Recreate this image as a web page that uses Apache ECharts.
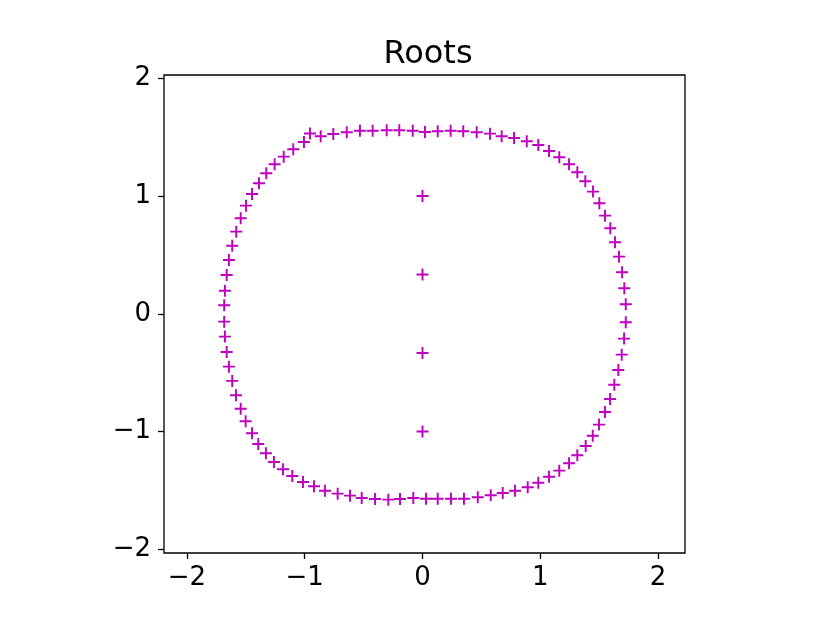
<!DOCTYPE html>
<html>
<head>
<meta charset="utf-8">
<script src="https://cdn.jsdelivr.net/npm/echarts@6/dist/echarts.min.js"></script>
<style>html,body{margin:0;padding:0;background:#fff;}#c{width:830px;height:623px;}</style>
</head>
<body>
<div id="c"></div>
<script>
// Ring of roots: x values (real parts)
var ringRe = [-0.955,-1.006,-1.097,-1.178,-1.255,-1.326,-1.388,-1.447,-1.498,-1.543,-1.581,-1.615,-1.643,-1.662,-1.677,-1.683,
  -1.683,-1.677,-1.662,-1.643,-1.615,-1.583,-1.543,-1.501,-1.447,-1.394,-1.329,-1.261,-1.184,-1.105,-1.014,-0.921,
  -0.828,-0.720,-0.615,-0.516,-0.403,-0.290,-0.191,-0.078,0.030,0.129,0.242,0.352,0.469,0.579,0.681,0.785,
  0.893,0.983,1.074,1.161,1.244,1.314,1.385,1.445,1.498,1.549,1.592,1.628,1.662,1.691,1.711,1.725,
  1.725,1.713,1.694,1.668,1.634,1.594,1.549,1.501,1.447,1.382,1.314,1.244,1.161,1.074,0.983,0.885,
  0.777,0.672,0.573,0.460,0.346,0.239,0.129,0.021,-0.083,-0.197,-0.304,-0.423,-0.531,-0.643,-0.757,-0.864];
// Ring of roots: y values (imaginary parts)
var ringIm = [1.531,1.458,1.396,1.334,1.269,1.193,1.108,1.017,0.918,0.811,0.697,0.578,0.457,0.329,0.196,0.072,
  -0.067,-0.194,-0.324,-0.449,-0.570,-0.692,-0.806,-0.913,-1.014,-1.105,-1.184,-1.258,-1.320,-1.377,-1.428,-1.464,
  -1.502,-1.527,-1.544,-1.564,-1.572,-1.578,-1.572,-1.564,-1.570,-1.570,-1.570,-1.570,-1.558,-1.541,-1.521,-1.502,
  -1.473,-1.434,-1.383,-1.332,-1.269,-1.201,-1.122,-1.035,-0.941,-0.834,-0.723,-0.602,-0.477,-0.347,-0.211,-0.072,
  0.081,0.216,0.352,0.485,0.607,0.726,0.833,0.938,1.037,1.125,1.201,1.269,1.329,1.382,1.433,1.464,
  1.492,1.507,1.529,1.541,1.549,1.554,1.549,1.543,1.554,1.558,1.558,1.554,1.554,1.541,1.526,1.507];
// Inner roots on the imaginary axis
var innerRe = [0, 0, 0, 0];
var innerIm = [1, 0.333, -0.333, -1];
var tickValues = [-2, -1, 0, 1, 2];
var titleText = 'Roots';

var pts = [];
for (var i = 0; i < ringRe.length; i++) pts.push([ringRe[i], ringIm[i]]);
for (var j = 0; j < innerRe.length; j++) pts.push([innerRe[j], innerIm[j]]);

var plus = 'path://M0.42,0H0.58V0.42H1V0.58H0.58V1H0.42V0.58H0V0.42H0.42Z';
var font = 'DejaVu Sans';
function fmt(v){ return String(v).replace('-', '\u2212'); }

var chart = echarts.init(document.getElementById('c'), null, {renderer: 'canvas'});
chart.setOption({
  animation: false,
  backgroundColor: '#fff',
  title: {
    text: titleText, left: 423, top: 34, textAlign: 'center',
    textStyle: {fontFamily: font, fontSize: 32, fontWeight: 'normal', color: '#000'}
  },
  grid: {left: 164, right: 145, top: 75, bottom: 70, show: true, borderColor: '#000', borderWidth: 1.3, backgroundColor: 'transparent'},
  xAxis: {
    type: 'value', min: -2.194, max: 2.228,
    splitLine: {show: false},
    axisLine: {show: false, onZero: false},
    axisTick: {show: true, inside: false, length: 6, lineStyle: {color: '#000', width: 1.3}, customValues: tickValues},
    axisLabel: {show: true, margin: 12, fontFamily: font, fontSize: 26, color: '#000', customValues: tickValues, formatter: fmt}
  },
  yAxis: {
    type: 'value', min: -2.031, max: 2.027,
    splitLine: {show: false},
    axisLine: {show: false, onZero: false},
    axisTick: {show: true, inside: false, length: 6, lineStyle: {color: '#000', width: 1.3}, customValues: tickValues},
    axisLabel: {show: true, margin: 13, fontFamily: font, fontSize: 26, color: '#000', customValues: tickValues, formatter: fmt}
  },
  series: [{
    type: 'scatter',
    data: pts,
    symbol: plus,
    symbolSize: 12,
    itemStyle: {color: '#bf00bf', opacity: 1},
    silent: true
  }]
});
</script>
</body>
</html>
